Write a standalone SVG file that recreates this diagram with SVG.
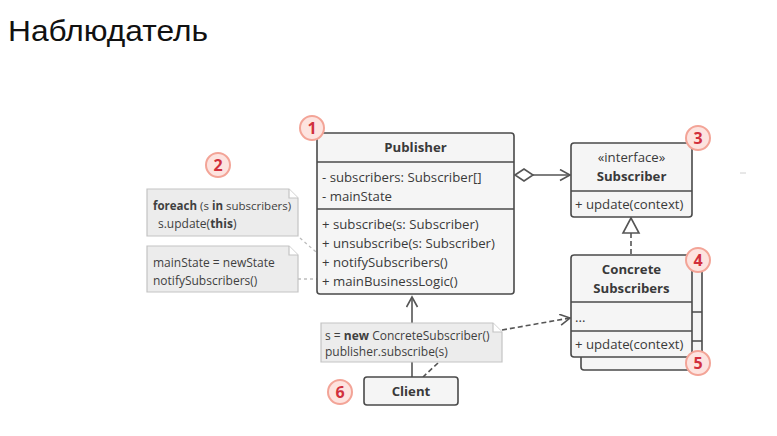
<svg xmlns="http://www.w3.org/2000/svg" width="777" height="436" viewBox="0 0 777 436">
<style>
.box{fill:#f5f5f5;stroke:#4a4a4a;stroke-width:1.6}
.div{stroke:#4a4a4a;stroke-width:1.6;fill:none}
.note{fill:#ececec;stroke:#c4c4c4;stroke-width:1.2}
.fold{fill:#ffffff;stroke:#c4c4c4;stroke-width:1.2}
.t{font-family:"Open Sans","Noto Sans",sans-serif;font-size:13.2px;fill:#3a3a3a}
.b{font-weight:bold}
.n{font-family:"Open Sans","Noto Sans",sans-serif;font-size:12px;fill:#3f3f3f}
.badge circle{fill:#fde3df;stroke:#f3a497;stroke-width:2}
.badge text{font-family:"Open Sans","Noto Sans",sans-serif;font-size:16px;font-weight:bold;fill:#d12f3c;text-anchor:middle}
.line{stroke:#555;stroke-width:1.6;fill:none}
.dash{stroke:#555;stroke-width:1.6;fill:none;stroke-dasharray:5,3}
.dot{stroke:#bdbdbd;stroke-width:1.3;fill:none;stroke-dasharray:3,3}
</style>
<defs>
<marker id="open" markerUnits="userSpaceOnUse" markerWidth="14" markerHeight="14" refX="11" refY="6" orient="auto">
<path d="M1,0.5 L11,6 L1,11.5" fill="none" stroke="#555" stroke-width="1.6"/>
</marker>
</defs>

<text x="8" y="41" font-family="Liberation Sans, Arial, sans-serif" font-size="29" fill="#111" textLength="200" lengthAdjust="spacingAndGlyphs">Наблюдатель</text>

<line x1="740" y1="173" x2="746" y2="173" stroke="#d0d0d0" stroke-width="1"/>

<g id="connectors">
<line class="line" x1="412" y1="377" x2="412" y2="297" marker-end="url(#open)"/>
<polygon points="515,175 524,169 533,175 524,181" fill="#fff" stroke="#555" stroke-width="1.6"/>
<line class="line" x1="533" y1="175" x2="570" y2="175" marker-end="url(#open)"/>
<line class="dash" x1="631" y1="233" x2="631" y2="255"/>
<polygon points="631,218 623,233 639,233" fill="#fff" stroke="#555" stroke-width="1.6"/>
<line class="dash" x1="502" y1="330" x2="570" y2="318" marker-end="url(#open)"/>
<line class="dash" x1="438" y1="363" x2="423" y2="377"/>
<line class="dot" x1="300" y1="238" x2="316" y2="252"/>
<line class="dot" x1="298" y1="279" x2="317" y2="279"/>
</g>

<g id="note1">
<path class="note" d="M147,189 H289 L298,198 V236 H147 Z"/>
<path class="fold" d="M289,189 V198 H298"/>
<text class="n" x="153" y="210" style="font-size:11.5px"><tspan class="b">foreach</tspan> (s <tspan class="b">in</tspan> subscribers)</text>
<text class="n" x="158" y="228">s.update(<tspan class="b">this</tspan>)</text>
</g>

<g id="note2">
<path class="note" d="M147,246 H289 L298,255 V292 H147 Z"/>
<path class="fold" d="M289,246 V255 H298"/>
<text class="n" x="153" y="267">mainState = newState</text>
<text class="n" x="153" y="285">notifySubscribers()</text>
</g>

<g id="note3">
<path class="note" d="M321,323 H493 L502,332 V362 H321 Z"/>
<path class="fold" d="M493,323 V332 H502"/>
<text class="n" x="325" y="340">s = <tspan class="b">new</tspan> ConcreteSubscriber()</text>
<text class="n" x="325" y="356">publisher.subscribe(s)</text>
</g>

<g id="publisher">
<rect class="box" x="317" y="133" width="197" height="161" rx="3"/>
<line class="div" x1="317" y1="162" x2="514" y2="162"/>
<line class="div" x1="317" y1="209" x2="514" y2="209"/>
<text class="t b" x="415.5" y="152" text-anchor="middle">Publisher</text>
<text class="t" x="322" y="182">- subscribers: Subscriber[]</text>
<text class="t" x="322" y="201">- mainState</text>
<text class="t" x="322" y="229">+ subscribe(s: Subscriber)</text>
<text class="t" x="322" y="248">+ unsubscribe(s: Subscriber)</text>
<text class="t" x="322" y="267">+ notifySubscribers()</text>
<text class="t" x="322" y="286">+ mainBusinessLogic()</text>
</g>

<g id="subscriber">
<rect class="box" x="571" y="143" width="121" height="74" rx="3"/>
<line class="div" x1="571" y1="191" x2="692" y2="191"/>
<text class="t" x="631.5" y="162" text-anchor="middle">«interface»</text>
<text class="t b" x="631.5" y="181" text-anchor="middle">Subscriber</text>
<text class="t" x="575" y="209">+ update(context)</text>
</g>

<g id="concrete-subscribers">
<rect class="box" x="581" y="266" width="121" height="104" rx="3"/>
<line class="div" x1="581" y1="312" x2="702" y2="312"/>
<line class="div" x1="581" y1="341" x2="702" y2="341"/>
<rect class="box" x="571" y="255" width="121" height="102" rx="3"/>
<line class="div" x1="571" y1="302" x2="692" y2="302"/>
<line class="div" x1="571" y1="331" x2="692" y2="331"/>
<text class="t b" x="631.5" y="274" text-anchor="middle">Concrete</text>
<text class="t b" x="631.5" y="293" text-anchor="middle">Subscribers</text>
<text class="t" x="575" y="322">...</text>
<text class="t" x="575" y="349">+ update(context)</text>
</g>

<g id="client">
<rect class="box" x="364" y="377" width="94" height="28" rx="3"/>
<text class="t b" x="411" y="396" text-anchor="middle">Client</text>
</g>

<g id="badge1" class="badge"><circle cx="312" cy="128" r="12"/><text x="312" y="133.5">1</text></g>
<g id="badge2" class="badge"><circle cx="218" cy="165" r="12"/><text x="218" y="170.5">2</text></g>
<g id="badge3" class="badge"><circle cx="698" cy="138" r="12"/><text x="698" y="143.5">3</text></g>
<g id="badge4" class="badge"><circle cx="698" cy="260" r="12"/><text x="698" y="265.5">4</text></g>
<g id="badge5" class="badge"><circle cx="698" cy="363" r="12"/><text x="698" y="368.5">5</text></g>
<g id="badge6" class="badge"><circle cx="340" cy="392" r="12"/><text x="340" y="397.5">6</text></g>
</svg>
